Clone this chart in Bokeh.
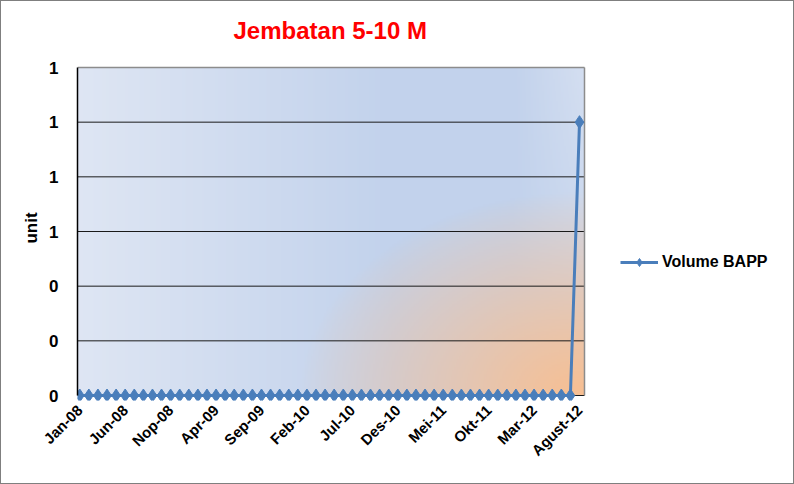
import numpy as np
from bokeh.plotting import figure
from bokeh.models import (Range1d, FixedTicker, NumeralTickFormatter, Legend, LegendItem,
                          ColumnDataSource)
from bokeh.embed import file_html
from bokeh.resources import INLINE

# ---- data ----
categories = [
    "Jan-08", "Feb-08", "Mar-08", "Apr-08", "Mei-08", "Jun-08", "Jul-08", "Agust-08", "Sep-08", "Okt-08", "Nop-08", "Des-08",
    "Jan-09", "Feb-09", "Mar-09", "Apr-09", "Mei-09", "Jun-09", "Jul-09", "Agust-09", "Sep-09", "Okt-09", "Nop-09", "Des-09",
    "Jan-10", "Feb-10", "Mar-10", "Apr-10", "Mei-10", "Jun-10", "Jul-10", "Agust-10", "Sep-10", "Okt-10", "Nop-10", "Des-10",
    "Jan-11", "Feb-11", "Mar-11", "Apr-11", "Mei-11", "Jun-11", "Jul-11", "Agust-11", "Sep-11", "Okt-11", "Nop-11", "Des-11",
    "Jan-12", "Feb-12", "Mar-12", "Apr-12", "Mei-12", "Jun-12", "Jul-12", "Agust-12",
]
volume_bapp = [
    0, 0, 0, 0, 0, 0, 0, 0, 0, 0, 0, 0,
    0, 0, 0, 0, 0, 0, 0, 0, 0, 0, 0, 0,
    0, 0, 0, 0, 0, 0, 0, 0, 0, 0, 0, 0,
    0, 0, 0, 0, 0, 0, 0, 0, 0, 0, 0, 0,
    0, 0, 0, 0, 0, 0, 0, 1,
]
y_ticks = [0, 0.2, 0.4, 0.6, 0.8, 1.0, 1.2]
label_step = 5

FONT = "Liberation Sans"
BLUE = "#4a7ebb"

idx = list(range(len(categories)))
src = ColumnDataSource(data=dict(x=idx, y=volume_bapp, month=categories))

# layout (pixels)
W_FIG, H_FIG = 794, 484
PAD_BELOW = 5                        # room under the zero line so markers are not clipped
PAD_ABOVE = 12                       # room above the plot area (lets the title sit higher)
B_LEFT, B_RIGHT = 76, 5
B_TOP, B_BOTTOM = 66 - PAD_ABOVE, 90 - PAD_BELOW
PLOT_W, PLOT_H = 507, 328            # shaded plot area
FRAME_W = W_FIG - B_LEFT - B_RIGHT   # frame also holds the legend zone

x0, x1 = -0.25, len(categories) - 0.45
x_end = x0 + (x1 - x0) * FRAME_W / PLOT_W
y0, y1 = y_ticks[0], y_ticks[-1]
y_start = y0 - (y1 - y0) * PAD_BELOW / PLOT_H
y_end = y1 + (y1 - y0) * PAD_ABOVE / PLOT_H

p = figure(width=W_FIG, height=H_FIG, x_range=Range1d(x0, x_end), y_range=Range1d(y_start, y_end),
           output_backend="svg", toolbar_location=None,
           min_border_left=B_LEFT, min_border_right=B_RIGHT,
           min_border_top=B_TOP, min_border_bottom=B_BOTTOM)
p.styles = {"border": "1px solid #7f7f7f", "box-sizing": "border-box"}
p.background_fill_color = "white"
p.outline_line_color = None
p.xgrid.visible = False
p.ygrid.visible = False

# gradient background of the plot area (style only)
W, H = 320, 220
u = np.linspace(0, 1, W)[None, :]
v = np.linspace(0, 1, H)[:, None]
light = np.array([224, 231, 244], float)
blue = np.array([194, 210, 236], float)
orange = np.array([248, 191, 146], float)
lt = np.clip((0.62 - u) / 0.62, 0, 1) * 0.95 + np.clip((u - 0.86) / 0.14, 0, 1) * v * 0.6
lt = np.clip(lt, 0, 1)[..., None]
base = blue * (1 - lt) + light * lt
d = np.sqrt(((1 - u) / 0.56) ** 2 + (v / 0.62) ** 2)
w = (np.clip(1 - d, 0, 1) ** 0.85)[..., None]
col = base * (1 - w) + orange * w
img = np.zeros((H, W), dtype=np.uint32)
view = img.view(dtype=np.uint8).reshape((H, W, 4))
view[..., 0] = col[..., 0].astype(np.uint8)
view[..., 1] = col[..., 1].astype(np.uint8)
view[..., 2] = col[..., 2].astype(np.uint8)
view[..., 3] = 255
p.image_rgba(image=[img], x=x0, y=y0, dw=x1 - x0, dh=y1 - y0)

# horizontal grid lines limited to the plot area, plus grey top/right border
grid_y = y_ticks[:-1]
p.segment(x0=[x0] * len(grid_y), x1=[x1] * len(grid_y), y0=grid_y, y1=grid_y,
          line_color="#1a1a1a", line_width=1)
p.segment(x0=[x0, x1], x1=[x1, x1], y0=[y1, y0], y1=[y1, y1],
          line_color="#8c8c8c", line_width=1.5)

# title
p.title.text = "Jembatan 5-10 M"
p.title.text_color = "#ff0000"
p.title.text_font = FONT
p.title.text_font_size = "24px"
p.title.text_font_style = "bold"
p.title.text_line_height = 1.0
p.title.align = "left"
p.title.offset = 156
p.title.standoff = 24

# axes
p.xaxis.ticker = FixedTicker(ticks=idx[::label_step])
p.xaxis.major_label_overrides = {i: categories[i] for i in idx[::label_step]}
p.xaxis.major_label_orientation = np.pi / 4
p.xaxis.major_label_text_font = FONT
p.xaxis.major_label_text_font_size = "15px"
p.xaxis.major_label_text_font_style = "bold"
p.xaxis.major_label_text_color = "black"
p.xaxis.major_label_standoff = 1
p.xaxis.axis_line_color = None

p.yaxis.ticker = FixedTicker(ticks=y_ticks)
p.yaxis.formatter = NumeralTickFormatter(format="0")
p.yaxis.bounds = (y0, y1)
p.yaxis.major_label_text_font = FONT
p.yaxis.major_label_text_font_size = "17px"
p.yaxis.major_label_text_font_style = "bold"
p.yaxis.major_label_text_color = "black"
p.yaxis.major_label_standoff = 13
p.yaxis.axis_label = "unit"
p.yaxis.axis_label_text_font = FONT
p.yaxis.axis_label_text_font_size = "17px"
p.yaxis.axis_label_text_font_style = "bold"
p.yaxis.axis_label_text_color = "black"
p.yaxis.axis_label_standoff = 5
p.yaxis.axis_line_color = "black"
p.yaxis.axis_line_width = 1.5

for ax in (p.xaxis, p.yaxis):
    ax.major_tick_line_color = None
    ax.minor_tick_line_color = None

# series
ln = p.line("x", "y", source=src, line_color=BLUE, line_width=3)
mk = p.scatter("x", "y", source=src, marker="diamond", size=13,
               fill_color=BLUE, line_color=BLUE)

legend = Legend(items=[LegendItem(label="Volume BAPP", renderers=[ln, mk])],
                location=(543, 123 + PAD_BELOW), glyph_width=38, glyph_height=20, label_standoff=4,
                label_text_font=FONT, label_text_font_size="16px", label_text_font_style="bold",
                label_text_color="black",
                border_line_color=None, background_fill_alpha=0, padding=0, margin=0)
p.add_layout(legend, "center")

open("out.html", "w").write(file_html(p, INLINE))
